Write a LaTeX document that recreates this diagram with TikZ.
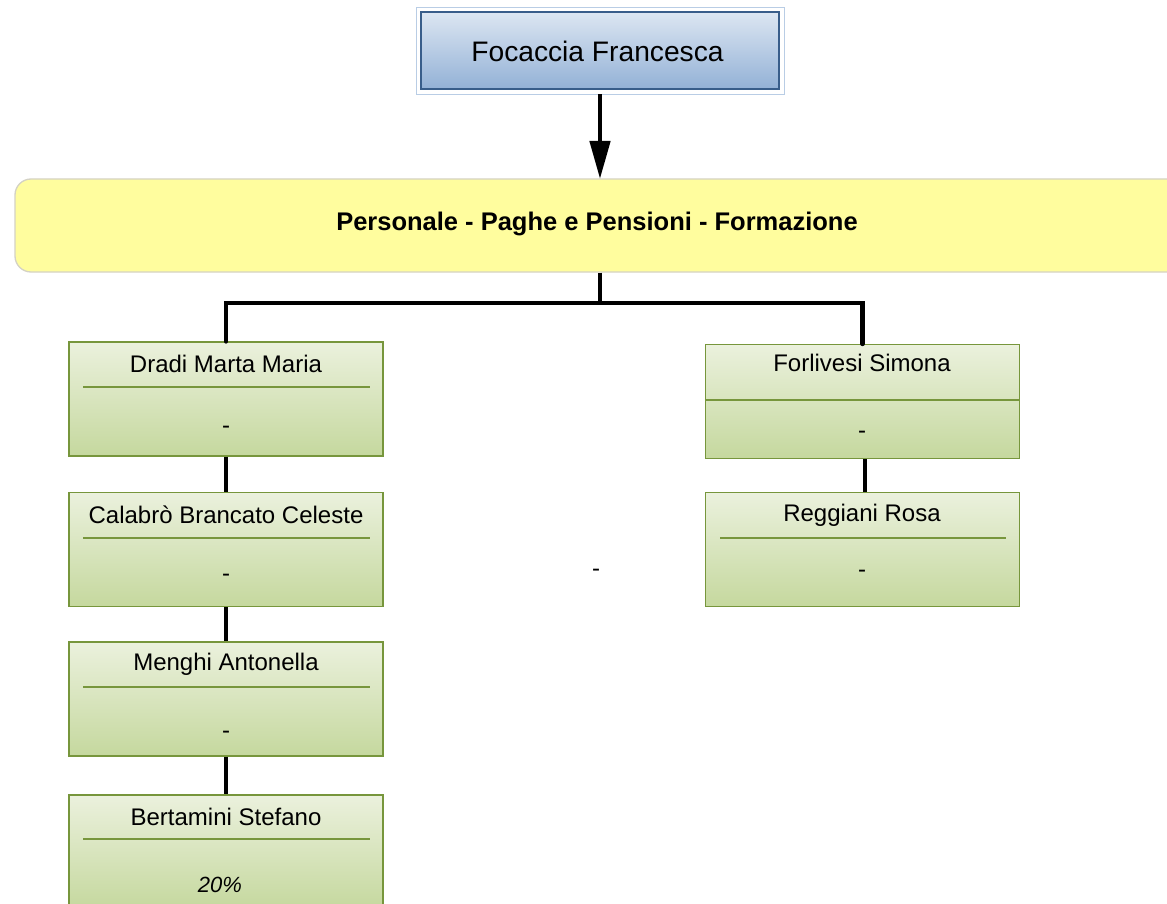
\documentclass[tikz,border=0pt]{standalone}
\usepackage{fontspec}
\setmainfont{Liberation Sans}
\usetikzlibrary{arrows.meta}
\definecolor{gtop}{HTML}{EBF1DD}
\definecolor{gbot}{HTML}{C5D89E}
\definecolor{gborder}{HTML}{77963C}
\definecolor{btop}{HTML}{DCE6F2}
\definecolor{bbot}{HTML}{93B1D6}
\definecolor{bborder}{HTML}{385D8A}
\definecolor{bouter}{HTML}{B9CDE5}
\definecolor{yfill}{HTML}{FFFD9E}
\definecolor{yborder}{HTML}{D4D2C4}
\tikzset{
  gbox/.style={draw=gborder, line width=1.3pt, top color=gtop, bottom color=gbot, minimum width=314pt, minimum height=114pt, inner sep=0pt},
  bbox/.style={draw=bborder, line width=1.3pt, top color=btop, bottom color=bbot, minimum width=358pt, minimum height=77pt, inner sep=0pt},
  obox/.style={draw=bouter, line width=0.8pt, minimum width=368pt, minimum height=87pt, inner sep=0pt},
  ybox/.style={draw=yborder, line width=1.3pt, fill=yfill, rounded corners=16pt, minimum width=1190pt, minimum height=93pt, inner sep=0pt},
  nametxt/.style={font=\fontsize{24}{28}\selectfont, inner sep=0pt, anchor=center},
  sepline/.style={draw=gborder, line width=1.3pt},
  conn/.style={line width=4.6pt, black},
}
\begin{document}
\begin{tikzpicture}[x=1pt,y=-1pt]
\clip (0,0) rectangle (1167,904);
\fill[white] (0,0) rectangle (1167,904);
% top box
\node[obox] (outer) at (600,50.5) {};
\node[bbox] (top) at (600,50.5) {};
\node[nametxt, font=\fontsize{28.2}{32}\selectfont] (toptxt) at (597.5,51) {Focaccia Francesca};
% yellow unit
\node[ybox] (unit) at (610,225.5) {};
\node[inner sep=0pt, font=\fontsize{25.5}{30}\selectfont\bfseries] (unittxt) at (597,224) {Personale - Paghe e Pensioni - Formazione};
\coordinate (unittop) at (600,179);
\draw[conn, -{Triangle[length=38pt,width=20pt]}] (outer.south) -- (unittop);
% left column
\node[gbox] (b1) at (226,399) {};
\node[gbox] (b2) at (226,549.5) {};
\node[gbox] (b3) at (226,699) {};
\node[gbox] (b4) at (226,852) {};
\node[gbox] (r1) at (862.5,401.5) {};
\node[gbox] (r2) at (862.5,549.5) {};
% texts
\node[nametxt] (t1) at (226,364) {Dradi Marta Maria};
\draw[sepline] (83,387) -- (370,387);
\node[nametxt] (d1) at (226,430) {-};
\node[nametxt] (t2) at (226,515) {Calabrò Brancato Celeste};
\draw[sepline] (83,538) -- (370,538);
\node[nametxt] (d2) at (226,578) {-};
\node[nametxt] (t3) at (226,664) {Menghi Antonella};
\draw[sepline] (83,687) -- (370,687);
\node[nametxt] (d3) at (226,735) {-};
\node[nametxt] (t4) at (226,817) {Bertamini Stefano};
\draw[sepline] (83,839) -- (370,839);
\node[nametxt, font=\fontsize{22}{26}\selectfont\itshape] (d4) at (220,885) {20\%};
\node[nametxt] (t5) at (862,363) {Forlivesi Simona};
\draw[sepline] (r1.west |- 0,400) -- (r1.east |- 0,400);
\node[nametxt] (d5) at (862,435) {-};
\node[nametxt] (t6) at (862,515) {Reggiani Rosa};
\draw[sepline] (720,538) -- (1006,538);
\node[nametxt] (d6) at (862,574) {-};
\node[nametxt] (free) at (596,573) {-};
% connectors
\coordinate (j) at (600,303);
\draw[conn] (unit.south -| j) -- (j);
\draw[conn, line cap=round] (b1.north) |- (j) -| (r1.north);
\draw[conn] (b1.south) -- (b2.north);
\draw[conn] (b2.south) -- (b3.north);
\draw[conn] (b3.south) -- (b4.north);
\draw[conn] (r1.south -| 865,0) -- (r2.north -| 865,0);
\end{tikzpicture}
\end{document}
